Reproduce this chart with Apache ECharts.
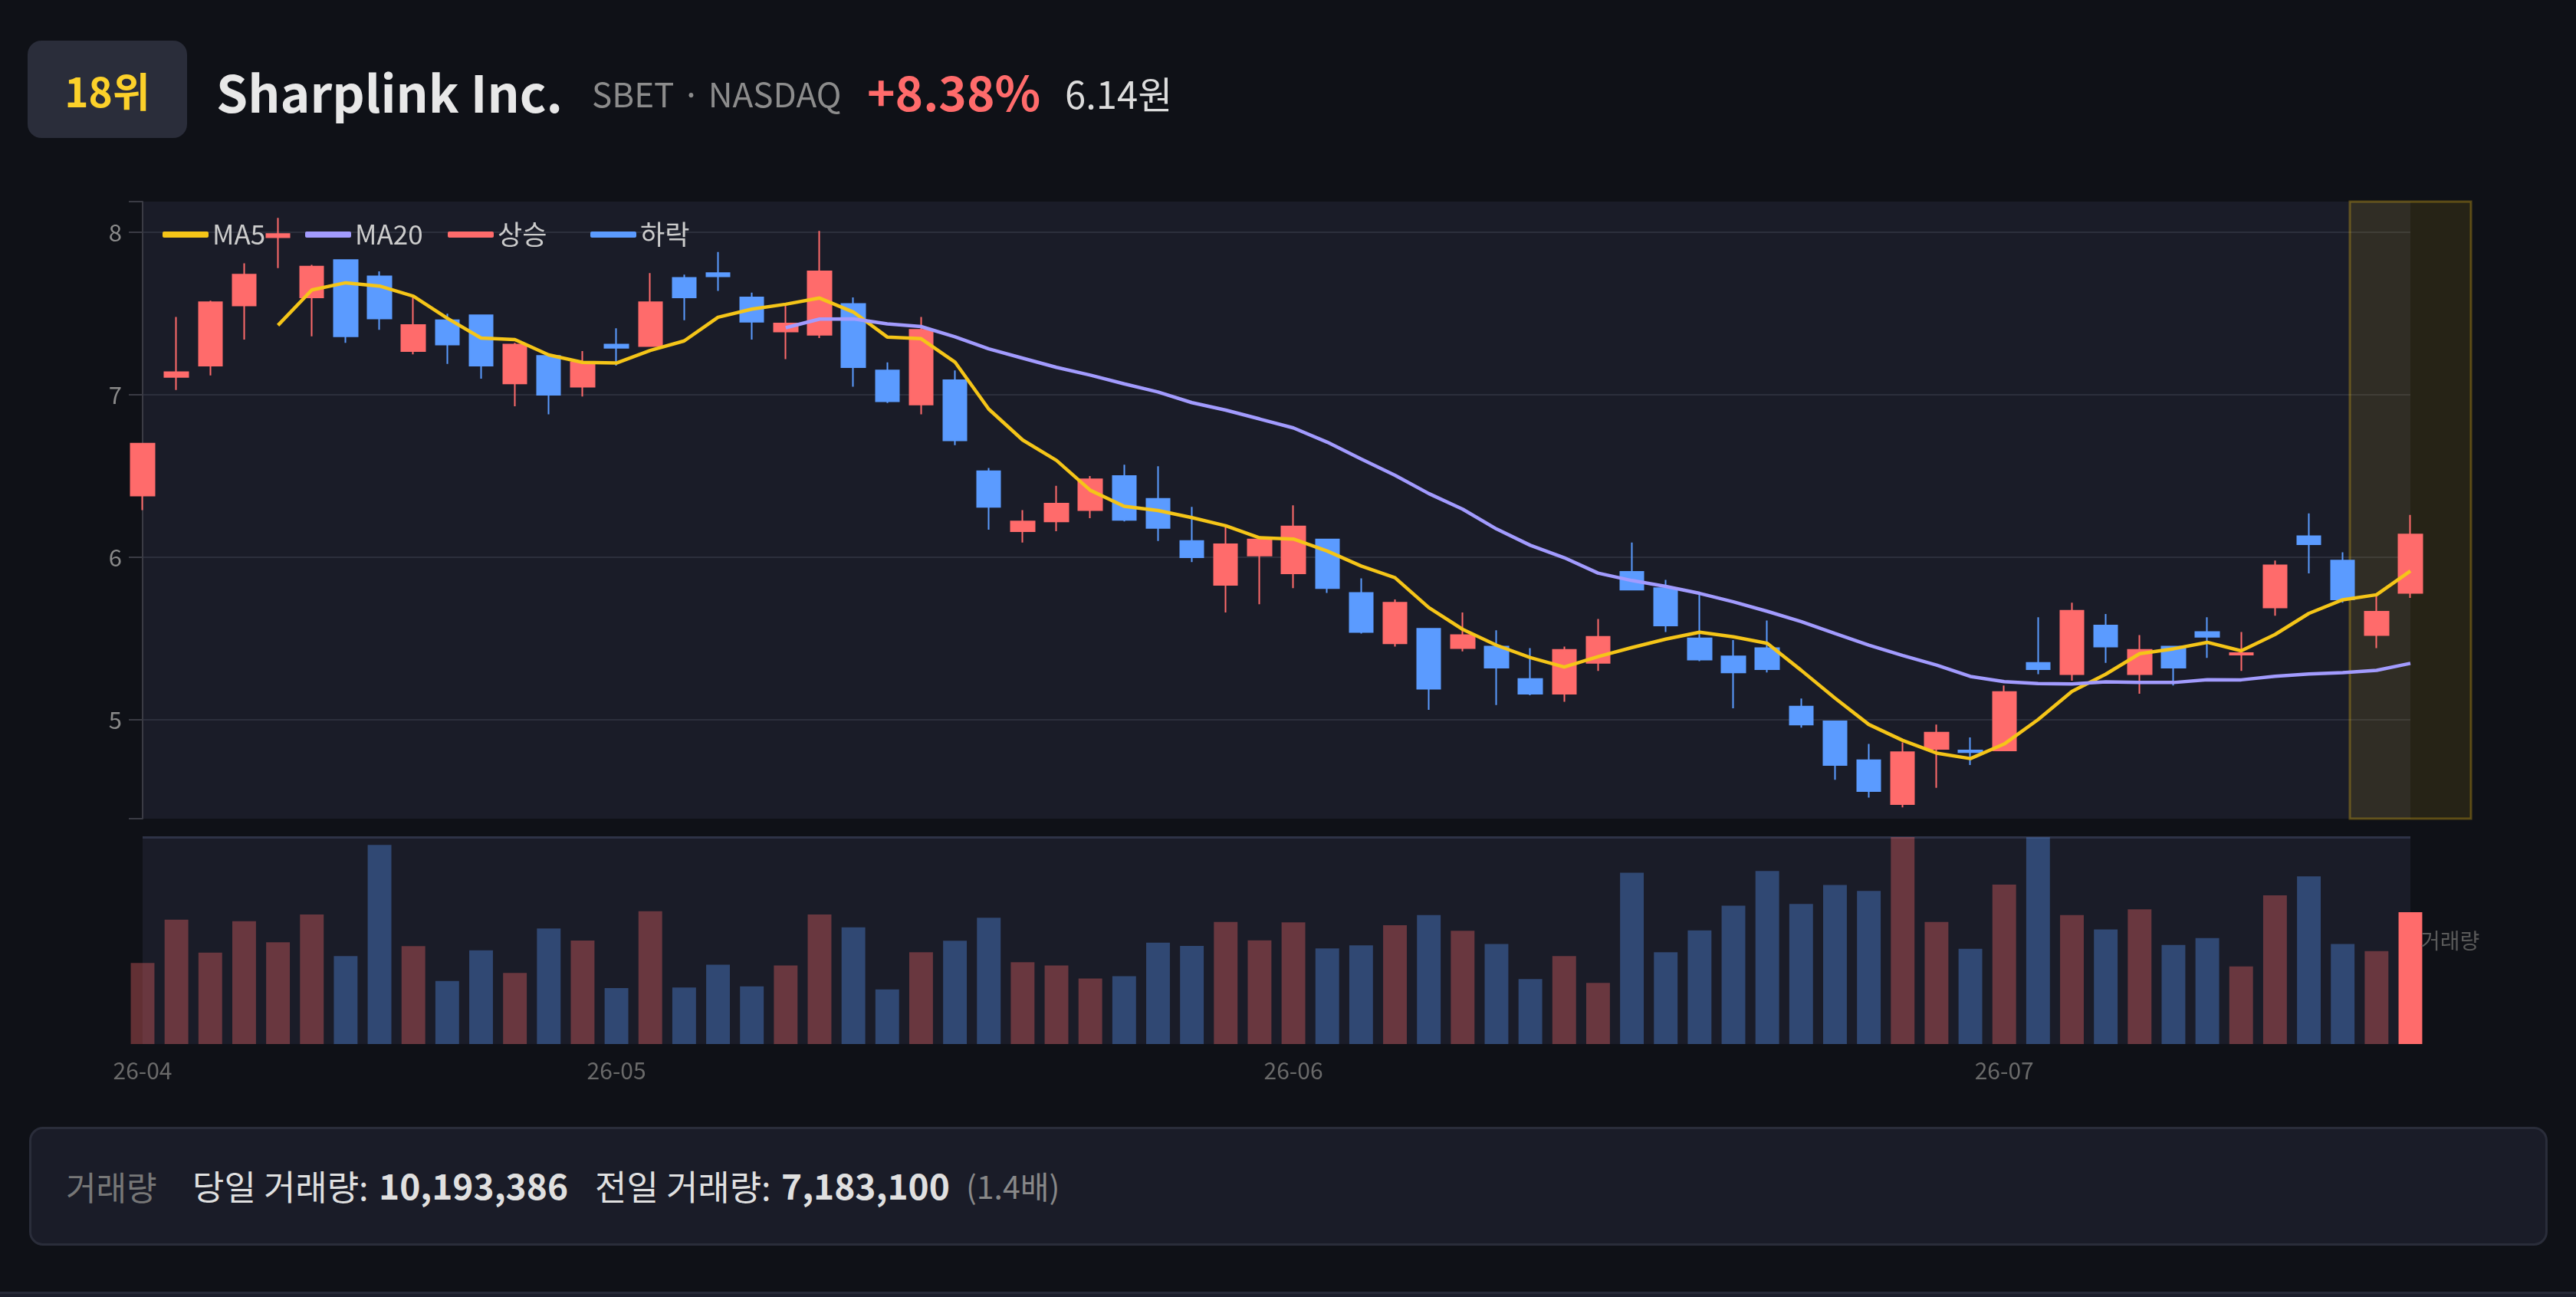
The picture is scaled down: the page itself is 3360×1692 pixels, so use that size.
<!DOCTYPE html>
<html>
<head>
<meta charset="utf-8">
<script src="https://cdn.jsdelivr.net/npm/echarts@6/dist/echarts.min.js"></script>
<style>
html,body{margin:0;padding:0;background:#0f1117;width:3360px;height:1692px;overflow:hidden;font-family:"Noto Sans CJK KR","Noto Sans",sans-serif;}
#chart{position:absolute;left:0;top:0;width:3360px;height:1692px;}
.abs{position:absolute;white-space:nowrap;line-height:normal;}
#badge{position:absolute;left:36px;top:53px;width:208px;height:127px;border-radius:18px;background:#2a2d3a;display:flex;align-items:center;justify-content:center;color:#fcd12a;font-weight:700;font-size:53px;}
#footer{position:absolute;left:38px;top:1470px;width:3285px;height:155px;box-sizing:border-box;border:3px solid #2a2d3a;background:#1a1c28;border-radius:18px;}
#strip{position:absolute;left:0;top:1685px;width:3360px;height:20px;background:#1c1f2c;border-top:3px solid #272a38;}
</style>
</head>
<body>
<div id="chart"></div>
<div id="badge">18위</div>
<div class="abs" style="left:282px;top:70px;font-size:66px;font-weight:700;color:#e8e8e8;">Sharplink Inc.</div>
<div class="abs" style="left:772px;top:89px;font-size:44px;color:#8c8c8c;">SBET · NASDAQ</div>
<div class="abs" style="left:1131px;top:73px;font-size:62px;font-weight:700;color:#ff6b6b;">+8.38%</div>
<div class="abs" style="left:1389px;top:85px;font-size:49px;color:#dcdcdc;">6.14원</div>
<div id="footer"></div>
<div class="abs" style="left:86px;top:1516px;font-size:43px;color:#777777;">거래량</div>
<div class="abs" style="left:251px;top:1514px;font-size:45px;color:#e0e0e0;">당일 거래량:</div>
<div class="abs" style="left:494px;top:1512px;font-size:46px;font-weight:700;color:#e0e0e0;">10,193,386</div>
<div class="abs" style="left:776px;top:1514px;font-size:45px;color:#e0e0e0;">전일 거래량:</div>
<div class="abs" style="left:1019px;top:1512px;font-size:46px;font-weight:700;color:#e0e0e0;">7,183,100</div>
<div class="abs" style="left:1260px;top:1516px;font-size:41px;color:#888888;">(1.4배)</div>
<div id="strip"></div>
<script>
const dates = [
'2026-04-13','2026-04-14','2026-04-15','2026-04-16','2026-04-17',
'2026-04-20','2026-04-21','2026-04-22','2026-04-23','2026-04-24',
'2026-04-27','2026-04-28','2026-04-29','2026-04-30','2026-05-01',
'2026-05-04','2026-05-05','2026-05-06','2026-05-07','2026-05-08',
'2026-05-11','2026-05-12','2026-05-13','2026-05-14','2026-05-15',
'2026-05-18','2026-05-19','2026-05-20','2026-05-21','2026-05-22',
'2026-05-26','2026-05-27','2026-05-28','2026-05-29',
'2026-06-01','2026-06-02','2026-06-03','2026-06-04','2026-06-05',
'2026-06-08','2026-06-09','2026-06-10','2026-06-11','2026-06-12',
'2026-06-15','2026-06-16','2026-06-17','2026-06-18',
'2026-06-22','2026-06-23','2026-06-24','2026-06-25','2026-06-26',
'2026-06-29','2026-06-30','2026-07-01','2026-07-02',
'2026-07-06','2026-07-07','2026-07-08','2026-07-09','2026-07-10',
'2026-07-13','2026-07-14','2026-07-15','2026-07-16','2026-07-17',
'2026-07-20'];
const openP  = [6.38,7.11,7.18,7.55,7.97,7.60,7.83,7.73,7.27,7.46,7.49,7.07,7.24,7.05,7.31,7.30,7.72,7.75,7.60,7.39,7.37,7.56,7.15,6.94,7.09,6.53,6.16,6.22,6.29,6.50,6.36,6.10,5.83,6.01,5.90,6.11,5.78,5.47,5.56,5.44,5.45,5.25,5.16,5.35,5.91,5.81,5.50,5.39,5.44,5.08,4.99,4.75,4.48,4.82,4.81,4.81,5.35,5.28,5.58,5.28,5.45,5.54,5.40,5.69,6.13,5.98,5.52,5.78];
const closeP = [6.70,7.14,7.57,7.74,7.99,7.79,7.36,7.47,7.43,7.31,7.18,7.31,7.00,7.20,7.29,7.57,7.60,7.73,7.45,7.44,7.76,7.17,6.96,7.40,6.72,6.31,6.22,6.33,6.48,6.23,6.18,6.00,6.08,6.11,6.19,5.81,5.54,5.72,5.19,5.52,5.32,5.16,5.43,5.51,5.80,5.58,5.37,5.29,5.31,4.97,4.72,4.56,4.80,4.92,4.80,5.17,5.31,5.67,5.45,5.43,5.32,5.51,5.41,5.95,6.08,5.74,5.665,6.14];
const lowP   = [6.29,7.03,7.12,7.34,7.78,7.36,7.32,7.40,7.25,7.19,7.10,6.93,6.88,6.99,7.18,7.30,7.46,7.64,7.34,7.22,7.35,7.05,6.95,6.88,6.69,6.17,6.09,6.16,6.24,6.22,6.10,5.97,5.66,5.71,5.81,5.78,5.53,5.45,5.06,5.42,5.09,5.15,5.11,5.30,5.80,5.54,5.36,5.07,5.29,4.95,4.63,4.52,4.46,4.58,4.72,4.81,5.28,5.24,5.35,5.16,5.21,5.38,5.30,5.64,5.90,5.72,5.44,5.75];
const highP  = [6.70,7.48,7.58,7.81,8.09,7.80,7.83,7.76,7.61,7.50,7.49,7.32,7.25,7.27,7.41,7.75,7.74,7.88,7.63,7.55,8.01,7.60,7.20,7.48,7.15,6.55,6.29,6.44,6.50,6.57,6.56,6.31,6.19,6.12,6.32,6.11,5.87,5.74,5.56,5.66,5.55,5.44,5.45,5.62,6.09,5.86,5.78,5.49,5.61,5.13,4.99,4.85,4.86,4.97,4.89,5.21,5.63,5.72,5.65,5.52,5.45,5.63,5.54,5.98,6.27,6.03,5.77,6.26];
const volumes = [6260000,9620000,7070000,9490000,7860000,10020000,6800000,15390000,7570000,4880000,
7250000,5490000,8930000,8000000,4320000,10260000,4370000,6130000,4460000,6080000,
10020000,9020000,4220000,7090000,7980000,9760000,6320000,6080000,5070000,5250000,
7840000,7580000,9440000,8020000,9410000,7390000,7630000,9180000,9970000,8750000,
7740000,5020000,6800000,4720000,13250000,7090000,8780000,10690000,13380000,10830000,
12300000,11840000,16000000,9440000,7360000,12320000,15980000,9970000,8860000,10420000,
7660000,8190000,6000000,11500000,12960000,7740000,7183100,10193386];
const priceMin = 4.39, priceMax = 8.19;
const volMax = 16000000;

const UP = '#ff6b6b', DOWN = '#5b9bff';
const FONT = '"Noto Sans CJK KR","Noto Sans",sans-serif';

function movingAvg(n) {
  return closeP.map((c, i) => {
    if (i < n - 1) return '-';
    let s = 0;
    for (let k = i - n + 1; k <= i; k++) s += closeP[k];
    return +(s / n).toFixed(4);
  });
}
const candleData = dates.map((d, i) => [openP[i], closeP[i], lowP[i], highP[i]]);
const last = dates.length - 1;
const volData = volumes.map((v, i) => {
  const up = closeP[i] >= openP[i];
  const c = i === last ? (up ? UP : DOWN) : (up ? 'rgba(255,107,107,0.35)' : 'rgba(91,155,255,0.35)');
  return { value: v, itemStyle: { color: c } };
});

const chart = echarts.init(document.getElementById('chart'), null, { renderer: 'canvas' });
const option = {
  backgroundColor: 'transparent',
  animation: false,
  textStyle: { fontFamily: FONT },
  legend: {
    left: 207, top: 281,
    icon: 'roundRect', itemWidth: 60, itemHeight: 8, itemGap: 21,
    data: ['MA5', 'MA20', '상승', '하락'],
    textStyle: { color: '#cccccc', fontSize: 35, fontFamily: FONT, width: 100, lineHeight: 40 }
  },
  grid: [
    { left: 186, top: 263, width: 2958, height: 805, show: true, backgroundColor: '#1a1c28', borderWidth: 0 },
    { left: 186, top: 1092, width: 2958, height: 270, show: true, backgroundColor: '#1a1c28', borderWidth: 0 }
  ],
  xAxis: [
    { type: 'category', gridIndex: 0, data: dates, boundaryGap: false,
      axisLine: { show: false }, axisTick: { show: false }, axisLabel: { show: false }, splitLine: { show: false } },
    { type: 'category', gridIndex: 1, data: dates, boundaryGap: false,
      axisLine: { show: false }, axisTick: { show: false }, splitLine: { show: false },
      axisLabel: {
        color: '#6a6a6a', fontSize: 30, fontFamily: FONT, margin: 20,
        interval: (idx) => idx === 0 || dates[idx].slice(0, 7) !== dates[idx - 1].slice(0, 7),
        formatter: (v) => v.slice(2, 7)
      } }
  ],
  yAxis: [
    { type: 'value', gridIndex: 0, min: priceMin, max: priceMax, scale: true,
      axisLine: { show: true, lineStyle: { color: '#3a3b44', width: 2 } },
      axisTick: { show: true, length: 18, lineStyle: { color: '#3a3b44', width: 2 } },
      axisLabel: { color: '#8a8a8a', fontSize: 31, fontFamily: FONT, margin: 27,
        formatter: (v) => (Math.abs(v - Math.round(v)) < 1e-6 ? String(Math.round(v)) : '') },
      splitLine: { show: true, showMinLine: false, showMaxLine: false, lineStyle: { color: '#2c2f3c', width: 2 } } },
    { type: 'value', gridIndex: 1, min: 0, max: volMax, interval: volMax,
      axisLine: { show: false }, axisTick: { show: false }, axisLabel: { show: false },
      splitLine: { show: true, showMinLine: false, lineStyle: { color: '#2e3347', width: 3 } } }
  ],
  series: [
    { name: 'Candle', type: 'candlestick', xAxisIndex: 0, yAxisIndex: 0, data: candleData, barWidth: '70%',
      itemStyle: { color: UP, color0: DOWN, borderColor: UP, borderColor0: DOWN, borderWidth: 2 } },
    { name: 'MA5', type: 'line', xAxisIndex: 0, yAxisIndex: 0, data: movingAvg(5), symbol: 'none', smooth: false,
      itemStyle: { color: '#f5c518' }, lineStyle: { color: '#f5c518', width: 4.5 } },
    { name: 'MA20', type: 'line', xAxisIndex: 0, yAxisIndex: 0, data: movingAvg(20), symbol: 'none', smooth: false,
      itemStyle: { color: '#a29bfe' }, lineStyle: { color: '#a29bfe', width: 4.5 } },
    { name: '상승', type: 'line', xAxisIndex: 0, yAxisIndex: 0, data: [], itemStyle: { color: UP }, lineStyle: { color: UP } },
    { name: '하락', type: 'line', xAxisIndex: 0, yAxisIndex: 0, data: [], itemStyle: { color: DOWN }, lineStyle: { color: DOWN } },
    { name: '거래량', type: 'bar', xAxisIndex: 1, yAxisIndex: 1, data: volData, barWidth: '70%', clip: true }
  ]
};
chart.setOption(option);

// highlight box around the latest candle, derived from the axes
const pLast = chart.convertToPixel({ xAxisIndex: 0, yAxisIndex: 0 }, [last, priceMax]);
const pPrev = chart.convertToPixel({ xAxisIndex: 0, yAxisIndex: 0 }, [last - 1, priceMin]);
const step = pLast[0] - pPrev[0];
const vTop = chart.convertToPixel({ xAxisIndex: 1, yAxisIndex: 1 }, [last, volMax]);
const vBot = chart.convertToPixel({ xAxisIndex: 1, yAxisIndex: 1 }, [last, 0]);
chart.setOption({
  graphic: [
    { type: 'rect', z: 1, silent: true,
      shape: { x: pLast[0] - 1.79 * step, y: pLast[1], width: 3.58 * step, height: pPrev[1] - pLast[1] },
      style: { fill: 'rgba(245,197,24,0.10)', stroke: 'rgba(245,197,24,0.30)', lineWidth: 3 } },
    { type: 'text', z: 5, silent: true, x: vTop[0] + 13, y: (vTop[1] + vBot[1]) / 2,
      style: { text: '거래량', fill: '#5a5a5a', fontSize: 28, fontFamily: FONT, verticalAlign: 'middle', align: 'left' } }
  ]
});
</script>
</body>
</html>
